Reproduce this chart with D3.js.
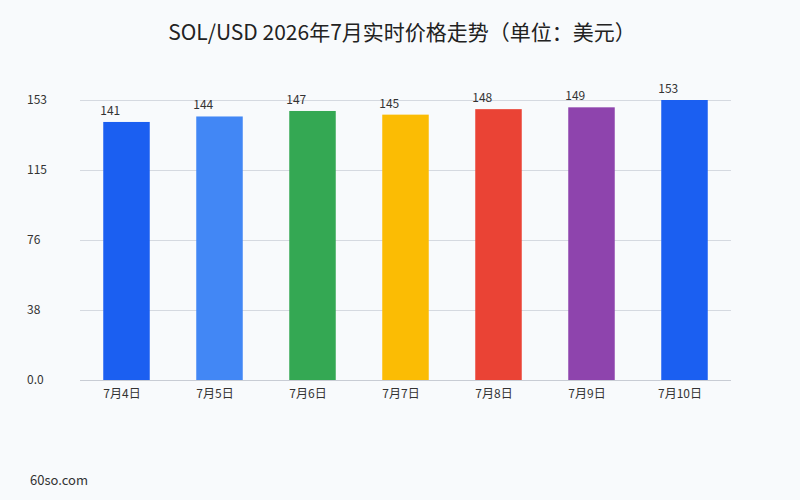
<!DOCTYPE html>
<html>
<head>
<meta charset="utf-8">
<script src="https://cdn.jsdelivr.net/npm/d3@7"></script>
<style>
  body { margin: 0; background: #f8fafc; }
  text { font-family: "Noto Sans CJK SC", "Noto Sans", sans-serif; }
</style>
</head>
<body>
<script>
// chart data
var dates = ["7月4日", "7月5日", "7月6日", "7月7日", "7月8日", "7月9日", "7月10日"];
var prices = [141, 144, 147, 145, 148, 149, 153];
var barColors = ["#1b5ff1", "#4287f5", "#34a853", "#fbbc04", "#ea4335", "#8e44ad", "#1b5ff1"];
var tickValues = [0, 38.25, 76.5, 114.75, 153];
var tickLabels = ["0.0", "38", "76", "115", "153"];

var w = 800, h = 500;
var margin = { left: 80, right: 69, top: 100, bottom: 120 };

var svg = d3.select("body").append("svg")
  .attr("width", w)
  .attr("height", h);

svg.append("rect").attr("width", w).attr("height", h).attr("fill", "#f8fafc");

var x = d3.scaleBand()
  .domain(dates)
  .range([margin.left, w - margin.right])
  .paddingInner(0.5)
  .paddingOuter(0.25);

var y = d3.scaleLinear()
  .domain([0, 153])
  .range([h - margin.bottom, margin.top]);

// grid lines
svg.append("g")
  .selectAll("line")
  .data(tickValues)
  .enter().append("line")
  .attr("x1", margin.left)
  .attr("x2", w - margin.right)
  .attr("y1", function(d) { return Math.round(y(d)) + 0.5; })
  .attr("y2", function(d) { return Math.round(y(d)) + 0.5; })
  .attr("stroke", function(d) { return d === 0 ? "#c8ccd4" : "#d5d9e0"; })
  .attr("stroke-width", 1);

// y labels
svg.append("g")
  .selectAll("text")
  .data(tickValues)
  .enter().append("text")
  .attr("x", 27)
  .attr("y", function(d) { return y(d) + 4; })
  .attr("font-size", 12)
  .attr("fill", "#333")
  .text(function(d, i) { return tickLabels[i]; });

// bars
svg.append("g")
  .selectAll("rect")
  .data(prices)
  .enter().append("rect")
  .attr("x", function(d, i) { return x(dates[i]); })
  .attr("y", function(d) { return y(d); })
  .attr("width", x.bandwidth())
  .attr("height", function(d) { return y(0) - y(d); })
  .attr("fill", function(d, i) { return barColors[i]; });

// value labels
svg.append("g")
  .selectAll("text")
  .data(prices)
  .enter().append("text")
  .attr("x", function(d, i) { return x(dates[i]) - 3; })
  .attr("y", function(d) { return y(d) - 7; })
  .attr("font-size", 12)
  .attr("fill", "#333")
  .text(function(d) { return d; });

// x labels
svg.append("g")
  .selectAll("text")
  .data(dates)
  .enter().append("text")
  .attr("x", function(d) { return x(d) + x.bandwidth() / 2 - 4.5; })
  .attr("y", 398)
  .attr("text-anchor", "middle")
  .attr("font-size", 12)
  .attr("fill", "#333")
  .text(function(d) { return d; });

// title
svg.append("text")
  .attr("x", 402)
  .attr("y", 40)
  .attr("text-anchor", "middle")
  .attr("font-size", 21)
  .attr("fill", "#222")
  .text("SOL/USD 2026年7月实时价格走势（单位：美元）");

svg.append("text")
  .attr("x", 30)
  .attr("y", 485)
  .attr("font-size", 13)
  .attr("fill", "#333")
  .text("60so.com");
</script>
</body>
</html>
